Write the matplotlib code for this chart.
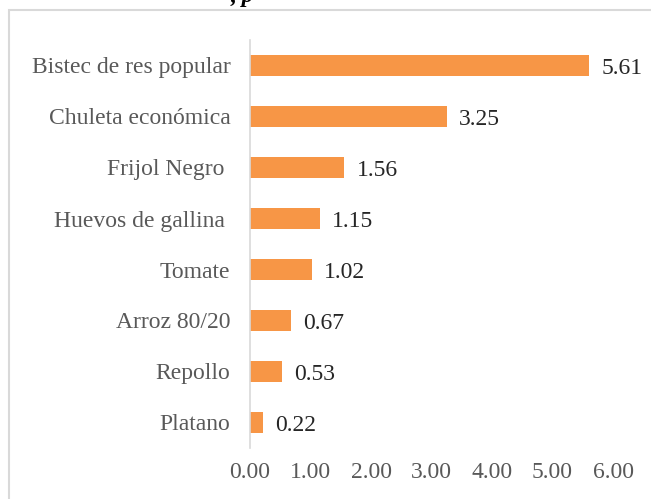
import matplotlib.pyplot as plt
from matplotlib.patches import Rectangle

# datos
productos = ["Bistec de res popular", "Chuleta económica", "Frijol Negro ",
             "Huevos de gallina ", "Tomate", "Arroz 80/20", "Repollo", "Platano"]
valores = [5.61, 3.25, 1.56, 1.15, 1.02, 0.67, 0.53, 0.22]
ticks = [0, 1, 2, 3, 4, 5, 6]

plt.rcParams['font.family'] = ['Liberation Serif', 'DejaVu Serif']
gris = '#595959'
naranja = '#F79646'

W, H = 651, 499
fig = plt.figure(figsize=(W / 100, H / 100), dpi=100)
ax = fig.add_axes([250 / W, 1 - 448 / H, 363 / W, 408 / H])

y = list(range(len(productos)))[::-1]
ax.barh(y, valores, height=0.4, color=naranja)
for yi, v in zip(y, valores):
    ax.text(v + 0.2, yi - 0.05, f"{v:.2f}", va='center', ha='left', fontsize=17, color='#262626')

ax.set_yticks(y)
ax.set_yticklabels(productos, fontsize=17, color=gris)
ax.set_xticks(ticks)
ax.set_xticklabels([f"{t:.2f}" for t in ticks], fontsize=17, color=gris)
ax.set_xlim(0, 6)
ax.set_ylim(-0.5, 7.5)
ax.tick_params(axis='both', length=0)
ax.tick_params(axis='y', pad=14)
ax.tick_params(axis='x', pad=10)
for s in ['top', 'right', 'bottom']:
    ax.spines[s].set_visible(False)
ax.spines['left'].set_color('#D9D9D9')
ax.spines['left'].set_linewidth(1.2)

# marco del gráfico
fig.patches.append(Rectangle((9 / W, -0.1), 1.2, 1 - 10 / H + 0.1, transform=fig.transFigure,
                             fill=False, edgecolor='#D9D9D9', linewidth=1.5))
# resto del título cortado arriba
fig.text(231 / W, 1 - 2 / H, ", p", fontsize=17, style='italic', fontweight='bold',
         va='baseline', ha='left', color='black')

fig.savefig('out.png', dpi=100)
